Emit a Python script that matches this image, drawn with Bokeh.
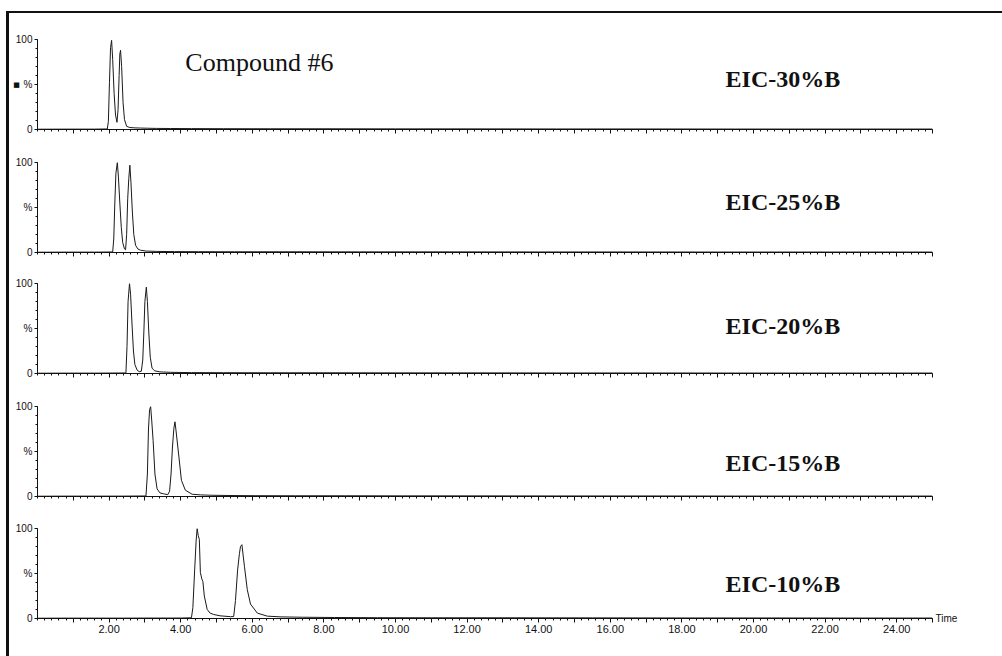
from bokeh.plotting import figure
from bokeh.layouts import column
from bokeh.models import Range1d, FixedTicker, CustomJSTickFormatter, Label, ColumnDataSource, LinearAxis
from bokeh.embed import file_html
from bokeh.resources import INLINE

# ---- chromatogram traces: retention time (min) and relative intensity (%) ----
t30 = [0.0, 0.8, 1.6, 1.95, 1.98, 2.01, 2.04, 2.07, 2.10, 2.14, 2.18, 2.22, 2.25, 2.28, 2.30, 2.32, 2.35, 2.39,
       2.43, 2.49, 2.58, 2.72, 2.88, 3.08, 3.32, 3.72, 4.30, 5.20, 6.50, 8.00, 10.0, 12.0, 14.5, 17.0, 19.5, 22.0, 25.0]
i30 = [0.3, 0.4, 0.4, 0.6, 9, 52, 91, 99, 78, 40, 16, 8, 22, 60, 84, 88, 70, 30,
       11, 3.5, 2.2, 1.8, 1.6, 1.4, 1.2, 1.1, 1.0, 0.9, 0.8, 0.8, 0.7, 0.7, 0.6, 0.6, 0.5, 0.5, 0.5]

t25 = [0.0, 0.8, 1.6, 2.10, 2.13, 2.16, 2.19, 2.23, 2.26, 2.30, 2.34, 2.38, 2.43, 2.46, 2.49, 2.52, 2.55, 2.58,
       2.61, 2.65, 2.69, 2.74, 2.80, 2.88, 3.03, 3.33, 3.83, 4.50, 5.50, 7.00, 9.00, 11.5, 14.0, 16.5, 19.0, 22.0, 25.0]
i25 = [0.3, 0.4, 0.4, 0.6, 15, 55, 88, 100, 84, 55, 28, 11, 4, 3, 20, 60, 82, 97,
       78, 45, 20, 8, 4, 2.5, 1.6, 1.2, 1.0, 0.9, 0.8, 0.8, 0.7, 0.7, 0.6, 0.6, 0.5, 0.5, 0.5]

t20 = [0.0, 0.8, 1.6, 2.47, 2.50, 2.53, 2.57, 2.60, 2.64, 2.68, 2.72, 2.78, 2.84, 2.90, 2.94, 2.97, 3.00, 3.04,
       3.07, 3.11, 3.15, 3.20, 3.27, 3.42, 3.72, 4.30, 5.20, 6.50, 8.00, 10.0, 12.0, 14.5, 17.0, 19.5, 22.0, 25.0]
i20 = [0.3, 0.4, 0.4, 0.6, 30, 80, 100, 88, 55, 25, 10, 4, 2, 2.5, 15, 45, 80, 96,
       80, 45, 18, 6, 3, 1.8, 1.3, 1.0, 0.9, 0.8, 0.8, 0.7, 0.7, 0.6, 0.6, 0.5, 0.5, 0.5]

t15 = [0.0, 0.8, 1.6, 2.4, 3.03, 3.07, 3.10, 3.13, 3.16, 3.19, 3.23, 3.28, 3.34, 3.42, 3.52, 3.64, 3.69, 3.73,
       3.77, 3.81, 3.84, 3.87, 3.95, 4.02, 4.13, 4.32, 4.55, 4.85, 5.35, 6.10, 7.20, 8.60, 10.2, 12.0, 14.5,
       17.0, 19.5, 22.0, 25.0]
i15 = [0.3, 0.4, 0.4, 0.4, 0.6, 25, 75, 96, 100, 85, 62, 25, 8.5, 4, 3, 2, 6, 25,
       55, 76, 83, 73, 44, 18, 7, 2.5, 1.8, 1.4, 1.1, 0.9, 0.8, 0.8, 0.7, 0.7, 0.6,
       0.6, 0.5, 0.5, 0.5]

t10 = [0.0, 0.8, 1.6, 2.4, 3.2, 4.0, 4.30, 4.34, 4.39, 4.43, 4.46, 4.49, 4.52, 4.55, 4.59, 4.62, 4.66, 4.74,
       4.82, 4.92, 5.10, 5.39, 5.48, 5.53, 5.59, 5.64, 5.67, 5.71, 5.73, 5.78, 5.86, 5.95, 6.14, 6.42, 6.80,
       7.40, 8.30, 9.50, 11.0, 13.0, 15.5, 18.0, 20.5, 23.0, 25.0]
i10 = [0.3, 0.4, 0.4, 0.4, 0.5, 0.5, 0.8, 12, 54, 86, 100, 92, 88, 51, 44, 41, 25, 10,
       6, 4.5, 3, 2, 2.2, 20, 54, 72, 80, 82, 75, 58, 32, 16, 6, 2.6, 1.8,
       1.4, 1.1, 0.9, 0.8, 0.8, 0.7, 0.6, 0.6, 0.5, 0.5]

trace_names = ["EIC-30%B", "EIC-25%B", "EIC-20%B", "EIC-15%B", "EIC-10%B"]
trace_times = [t30, t25, t20, t15, t10]
trace_values = [i30, i25, i20, i15, i10]

# ---- layout constants ----
name_y = [56, 56, 53, 37, 38]                 # baseline of each trace's name, in % units
border_top = [26, 12, 12, 12, 12]
border_bottom = [21, 19, 21, 20, 38]
PX_PER_MIN = 35.8
X_END = 25
FRAME_W, FRAME_H = int(round(X_END * PX_PER_MIN)), 90
LEFT = 28

x_range = Range1d(0, X_END)
x_ticker = FixedTicker(ticks=list(range(1, 26)), minor_ticks=[round(k * 0.2, 1) for k in range(0, 126)])
x_fmt = CustomJSTickFormatter(code="return (Math.round(tick) % 2 === 0) ? tick.toFixed(2) : '';")
y_ticker = FixedTicker(ticks=[0, 50, 100], minor_ticks=list(range(0, 101, 10)))
y_fmt = CustomJSTickFormatter(code="return tick === 50 ? '%' : tick.toFixed(0);")

panels = []
for k, (name, tt, vv) in enumerate(zip(trace_names, trace_times, trace_values)):
    last = k == len(trace_names) - 1
    p = figure(frame_width=FRAME_W, frame_height=FRAME_H, x_range=x_range, y_range=Range1d(0, 100),
               output_backend="svg", toolbar_location=None,
               min_border_left=LEFT, min_border_right=1002 - 9 - LEFT - FRAME_W,
               min_border_top=border_top[k], min_border_bottom=border_bottom[k])
    p.outline_line_color = None
    p.grid.visible = False
    p.background_fill_color = "white"
    p.border_fill_color = "white"

    src = ColumnDataSource(dict(t=tt, v=vv))
    p.line("t", "v", source=src, line_color="#1a1a1a", line_width=1)

    xa = p.xaxis[0]
    xa.ticker = x_ticker
    xa.formatter = x_fmt
    xa.axis_line_color = "#111"
    xa.major_tick_line_color = "#111"
    xa.minor_tick_line_color = "#111"
    xa.major_tick_out = 4
    xa.major_tick_in = 0
    xa.minor_tick_out = 2
    xa.minor_tick_in = 0
    xa.major_label_standoff = 2
    xa.major_label_text_font = "Liberation Sans"
    if last:
        xa.major_label_text_font_size = "11px"
        xa.major_label_text_color = "#111"
    else:
        xa.major_label_text_font_size = "1px"
        xa.major_label_text_color = None

    ya = p.yaxis[0]
    ya.ticker = y_ticker
    ya.formatter = y_fmt
    ya.axis_line_color = "#111"
    ya.major_tick_line_color = "#111"
    ya.minor_tick_line_color = "#111"
    ya.major_tick_out = 3
    ya.major_tick_in = 0
    ya.minor_tick_out = 2
    ya.minor_tick_in = 0
    ya.major_label_standoff = 2
    ya.major_label_text_font = "Liberation Sans"
    ya.major_label_text_font_size = "10px"
    ya.major_label_text_color = "#111"

    p.add_layout(Label(x=19.22, y=name_y[k], text=name, text_font="Liberation Serif",
                       text_font_style="bold", text_font_size="24px", text_color="#111",
                       text_baseline="alphabetic"))

    if k == 0:
        p.add_layout(Label(x=4.13, y=74, text="Compound #6", text_font="Liberation Serif",
                           text_font_size="26px", text_color="#111", text_baseline="alphabetic"))
        # small mark beside the "%" of the top trace
        ya.axis_label = "■"
        ya.axis_label_orientation = "horizontal"
        ya.axis_label_standoff = -7
        ya.axis_label_text_font = "DejaVu Sans"
        ya.axis_label_text_font_style = "normal"
        ya.axis_label_text_font_size = "7px"
        ya.axis_label_text_color = "#111"
    if last:
        # "Time" sits just right of the time axis end, level with the baseline
        ta = LinearAxis(ticker=FixedTicker(ticks=[0], minor_ticks=[]),
                        formatter=CustomJSTickFormatter(code="return 'Time';"))
        ta.axis_line_color = None
        ta.major_tick_line_color = None
        ta.minor_tick_line_color = None
        ta.major_tick_out = 0
        ta.major_tick_in = 0
        ta.major_label_standoff = 3
        ta.major_label_text_font = "Liberation Sans"
        ta.major_label_text_font_size = "10px"
        ta.major_label_text_color = "#111"
        p.add_layout(ta, "right")
    panels.append(p)

layout = column(*panels, spacing=0,
                styles={"margin-left": "6px", "margin-top": "11px",
                        "border-left": "3px solid #111", "border-top": "2px solid #111"})

open("out.html", "w").write(file_html(layout, INLINE, title="Compound #6 EIC"))
